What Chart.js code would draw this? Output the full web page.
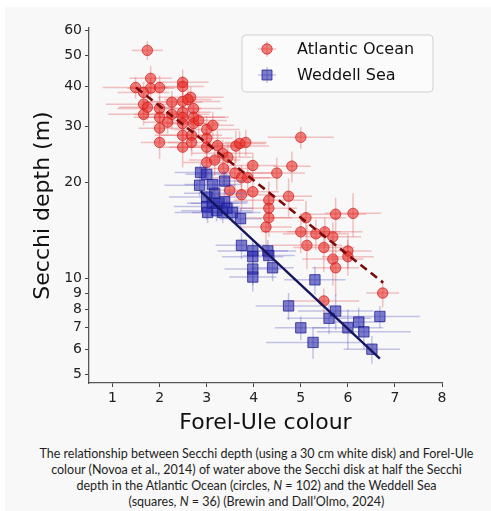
<!DOCTYPE html>
<html><head><meta charset="utf-8">
<script src="https://cdn.jsdelivr.net/npm/chart.js@4"></script>
<style>
html,body{margin:0;padding:0;background:#fff;width:491px;height:511px;overflow:hidden;}
#panel{position:absolute;left:5px;top:7px;width:486px;height:504px;background:#f8f8f8;}
#c{position:absolute;left:0;top:0;}
#cap{position:absolute;left:11px;top:446px;width:491px;text-align:center;font-family:Lato,"Open Sans",sans-serif;font-size:12.5px;line-height:16px;color:#1e1e1e;}
</style></head>
<body>
<div id="panel"></div>
<canvas id="c" width="491" height="440"></canvas>
<div id="cap">The relationship between Secchi depth (using a 30 cm white disk) and Forel-Ule<br>colour (Novoa et al., 2014) of water above the Secchi disk at half the Secchi<br>depth in the Atlantic Ocean (circles, <i>N</i> = 102) and the Weddell Sea<br>(squares, <i>N</i> = 36) (Brewin and Dall’Olmo, 2024)</div>
<script>
// ---- data ----
const seriesNames = ['Atlantic Ocean', 'Weddell Sea'];
const atlX = [1.74,1.49,1.81,1.81,1.66,2.00,1.66,1.74,1.66,2.00,
              2.00,2.00,2.00,2.26,2.26,2.17,2.49,2.49,2.49,2.49,
              2.49,2.49,2.49,2.49,2.66,2.60,2.72,2.72,2.72,2.68,
              2.68,2.83,3.00,3.00,3.00,3.00,3.13,3.23,3.17,3.34,
              3.45,3.36,3.62,3.70,3.83,3.60,3.74,3.87,3.98,3.49,
              3.74,3.98,4.49,4.81,5.00,4.32,4.32,4.32,4.26,4.74,
              5.11,5.74,6.11,5.00,5.32,5.51,5.68,5.13,5.49,6.00,
              6.00,5.68,5.74,6.74,5.49];
const atlY = [51.9,39.7,42.4,39.5,38.3,39.7,35.2,34.4,32.7,34.1,
              32.0,29.6,26.7,35.7,32.7,30.9,41.2,40.0,35.9,33.2,
              32.0,30.6,28.1,25.8,37.0,36.4,34.1,32.0,30.6,28.1,
              26.7,31.3,29.3,27.5,25.8,23.1,30.2,26.1,23.5,24.7,
              24.0,22.1,26.0,26.5,26.7,21.4,20.7,20.7,22.6,18.9,
              18.3,18.7,21.4,22.5,27.7,17.6,16.6,15.5,14.5,18.1,
              15.5,15.9,16.0,14.0,13.8,14.0,13.5,12.7,12.5,12.2,
              11.7,11.5,10.8,9.0,8.5];
const atlXErr = [0.33,0.70,0.45,0.50,0.55,0.60,0.80,0.60,0.75,0.90,
                 0.55,0.45,0.40,0.65,0.80,0.50,0.55,0.45,0.80,0.60,
                 0.90,0.50,0.60,0.45,0.70,0.50,0.60,0.75,0.55,0.65,
                 0.50,0.60,0.70,0.55,0.80,0.50,0.45,0.60,0.55,0.65,
                 0.50,0.60,0.70,0.55,0.45,0.80,0.60,0.55,0.50,0.45,
                 0.70,0.55,0.60,0.40,0.70,0.75,0.60,0.50,0.55,0.50,
                 0.85,0.65,0.60,0.85,0.70,0.80,0.60,0.75,0.65,0.50,
                 0.55,0.65,0.50,0.35,0.75];
const atlYErr = [3.5,3.0,4.0,3.0,3.0,3.5,2.5,3.0,2.5,3.0,
                 3.5,3.0,3.0,3.0,3.5,2.5,4.0,3.0,3.0,3.5,
                 3.0,3.0,3.0,3.5,3.0,3.0,3.0,3.0,3.0,3.0,
                 2.5,3.0,3.0,3.0,3.0,2.5,3.0,3.0,2.5,2.5,
                 2.5,2.5,3.0,2.5,2.5,2.5,2.0,2.5,2.0,2.0,
                 2.0,2.5,2.5,2.5,2.2,2.5,2.0,2.0,3.0,2.5,
                 2.0,2.0,2.5,2.0,1.5,1.5,1.5,2.0,2.0,1.5,
                 1.5,2.0,2.0,0.9,0.8];
const wedX = [2.87,3.00,2.85,3.13,3.38,3.17,3.00,3.00,3.13,3.26,
              3.38,3.21,3.34,3.43,3.55,3.72,3.74,3.98,4.30,3.98,
              4.32,3.98,3.98,4.40,5.30,4.74,5.74,5.60,5.00,6.00,
              6.23,6.68,6.34,5.26,6.51,3.02];
const wedY = [21.5,21.2,19.6,19.7,20.2,18.5,18.0,16.8,17.2,17.2,
              17.4,16.3,16.1,16.6,16.1,15.4,12.7,12.2,12.2,11.7,
              11.8,10.7,10.1,10.8,9.9,8.2,7.9,7.5,7.0,7.0,
              7.3,7.6,6.8,6.3,6.0,16.1];
const wedXErr = [0.55,0.45,0.75,0.60,0.40,0.65,0.80,0.70,0.55,0.60,
                 0.50,0.75,0.65,0.55,0.60,0.45,0.55,0.75,0.60,0.65,
                 0.55,0.60,0.50,0.45,0.65,0.70,0.80,0.90,0.55,0.75,
                 0.55,0.85,1.00,1.00,0.60,0.70];
const wedYErr = [1.5,1.5,1.5,1.5,1.5,1.5,1.5,1.5,1.5,1.5,
                 1.5,1.2,1.2,1.2,1.2,1.2,1.2,1.0,1.0,1.2,
                 1.0,1.2,1.0,1.0,1.0,0.8,1.0,0.8,0.6,1.0,
                 0.8,0.6,0.8,0.7,0.6,1.2];
const atlFitX = [1.50, 6.75];
const atlFitY = [39.7, 9.7];
const wedFitX = [2.87, 6.68];
const wedFitY = [18.8, 5.6];
const xTicks = [1,2,3,4,5,6,7,8];
const yTicks = [5,6,7,8,9,10,20,30,40,50,60];

// ---- styles ----
const RED_FILL = 'rgba(232,45,38,0.6)', RED_EDGE = 'rgba(205,30,30,0.75)', RED_ERR = 'rgba(228,70,70,0.32)';
const BLU_FILL = 'rgba(40,40,175,0.6)', BLU_EDGE = 'rgba(30,30,140,0.75)', BLU_ERR = 'rgba(70,70,190,0.3)';
const FONT = "'DejaVu Sans', sans-serif";

const pts = (xs, ys) => xs.map((x, i) => ({x: x, y: ys[i]}));

const errPlugin = {
  id: 'errbars',
  beforeDatasetDraw(chart, args) {
    const ds = chart.data.datasets[args.index];
    if (!ds.errX) return;
    const xs = chart.scales.x, ys = chart.scales.y, ctx = chart.ctx, a = chart.chartArea;
    ctx.save();
    ctx.beginPath(); ctx.rect(a.left, a.top, a.right - a.left, a.bottom - a.top); ctx.clip();
    ctx.strokeStyle = ds.errColor; ctx.lineWidth = 1.5;
    ds.data.forEach((p, i) => {
      const px = xs.getPixelForValue(p.x), py = ys.getPixelForValue(p.y);
      ctx.beginPath();
      ctx.moveTo(xs.getPixelForValue(p.x - ds.errX[i]), py);
      ctx.lineTo(xs.getPixelForValue(p.x + ds.errX[i]), py);
      ctx.stroke();
      ctx.beginPath();
      ctx.moveTo(px, ys.getPixelForValue(p.y + ds.errY[i]));
      ctx.lineTo(px, ys.getPixelForValue(Math.max(p.y - ds.errY[i], 0.5)));
      ctx.stroke();
    });
    ctx.restore();
  }
};

const legendPlugin = {
  id: 'boxlegend',
  afterDraw(chart) {
    const ctx = chart.ctx;
    ctx.save();
    const bx = 242, by = 35, bw = 191, bh = 57, r = 4;
    ctx.beginPath();
    ctx.moveTo(bx + r, by); ctx.lineTo(bx + bw - r, by); ctx.arcTo(bx + bw, by, bx + bw, by + r, r);
    ctx.lineTo(bx + bw, by + bh - r); ctx.arcTo(bx + bw, by + bh, bx + bw - r, by + bh, r);
    ctx.lineTo(bx + r, by + bh); ctx.arcTo(bx, by + bh, bx, by + bh - r, r);
    ctx.lineTo(bx, by + r); ctx.arcTo(bx, by, bx + r, by, r); ctx.closePath();
    ctx.fillStyle = 'rgba(252,252,252,0.85)'; ctx.fill();
    ctx.strokeStyle = '#d0d0d0'; ctx.lineWidth = 1; ctx.stroke();
    const rows = [
      {y: 49, name: seriesNames[0], fill: RED_FILL, edge: RED_EDGE, err: RED_ERR, shape: 'circle'},
      {y: 75, name: seriesNames[1], fill: BLU_FILL, edge: BLU_EDGE, err: BLU_ERR, shape: 'rect'}
    ];
    rows.forEach(rw => {
      const mx = 267;
      ctx.strokeStyle = rw.err; ctx.lineWidth = 1.5;
      ctx.beginPath(); ctx.moveTo(mx - 9, rw.y); ctx.lineTo(mx + 9, rw.y); ctx.stroke();
      ctx.beginPath(); ctx.moveTo(mx, rw.y - 8); ctx.lineTo(mx, rw.y + 8); ctx.stroke();
      ctx.fillStyle = rw.fill; ctx.strokeStyle = rw.edge; ctx.lineWidth = 1;
      ctx.beginPath();
      if (rw.shape === 'circle') ctx.arc(mx, rw.y, 5.2, 0, Math.PI * 2);
      else ctx.rect(mx - 5, rw.y - 5, 10, 10);
      ctx.fill(); ctx.stroke();
      ctx.fillStyle = '#111'; ctx.font = '16px ' + FONT; ctx.textBaseline = 'middle'; ctx.textAlign = 'left';
      ctx.fillText(rw.name, 297, rw.y + 1);
    });
    ctx.restore();
  }
};

new Chart(document.getElementById('c'), {
  type: 'scatter',
  data: {
    datasets: [
      {label: 'Atlantic fit', type: 'line', data: pts(atlFitX, atlFitY), borderColor: '#7a0b0b', borderWidth: 2.6,
       borderDash: [8, 5], pointRadius: 0, fill: false, order: 1},
      {label: 'Weddell fit', type: 'line', data: pts(wedFitX, wedFitY), borderColor: '#16165e', borderWidth: 2.4,
       pointRadius: 0, fill: false, order: 0},
      {label: seriesNames[0], data: pts(atlX, atlY), errX: atlXErr, errY: atlYErr, errColor: RED_ERR,
       pointStyle: 'circle', pointRadius: 5.2, backgroundColor: RED_FILL, borderColor: RED_EDGE, borderWidth: 1, order: 3},
      {label: seriesNames[1], data: pts(wedX, wedY), errX: wedXErr, errY: wedYErr, errColor: BLU_ERR,
       pointStyle: 'rect', pointRadius: 7.3, backgroundColor: BLU_FILL, borderColor: BLU_EDGE, borderWidth: 1, order: 2}
    ]
  },
  options: {
    responsive: false, animation: false, devicePixelRatio: 1,
    layout: {padding: {left: 0, top: 28, right: 49, bottom: 0}},
    plugins: {legend: {display: false}, tooltip: {enabled: false}},
    scales: {
      x: {
        type: 'linear', min: 0.5, max: 8,
        afterBuildTicks: s => { s.ticks = xTicks.map(v => ({value: v})); },
        afterFit: s => { s.height = 57; },
        ticks: {autoSkip: false, maxRotation: 0, padding: 3, color: '#222', font: {family: FONT, size: 14}, callback: v => String(v)},
        grid: {drawOnChartArea: false, drawTicks: true, tickLength: 4, color: '#444', lineWidth: 1},
        border: {display: true, color: '#555', width: 1.3},
        title: {display: true, text: 'Forel-Ule colour', color: '#111', font: {family: FONT, size: 22}, padding: {top: 0, bottom: 4}}
      },
      y: {
        type: 'logarithmic', min: 4.7, max: 61,
        afterBuildTicks: s => { s.ticks = yTicks.map(v => ({value: v})); },
        afterFit: s => { s.width = 89; },
        ticks: {autoSkip: false, padding: 3, color: '#222', font: {family: FONT, size: 14}, callback: v => String(v)},
        grid: {drawOnChartArea: false, drawTicks: true, tickLength: 4, color: '#444', lineWidth: 1},
        border: {display: true, color: '#555', width: 1.3},
        title: {display: true, text: 'Secchi depth (m)', color: '#111', font: {family: FONT, size: 22}, padding: {top: 30, bottom: 0}}
      }
    }
  },
  plugins: [errPlugin, legendPlugin]
});
</script>
</body></html>
